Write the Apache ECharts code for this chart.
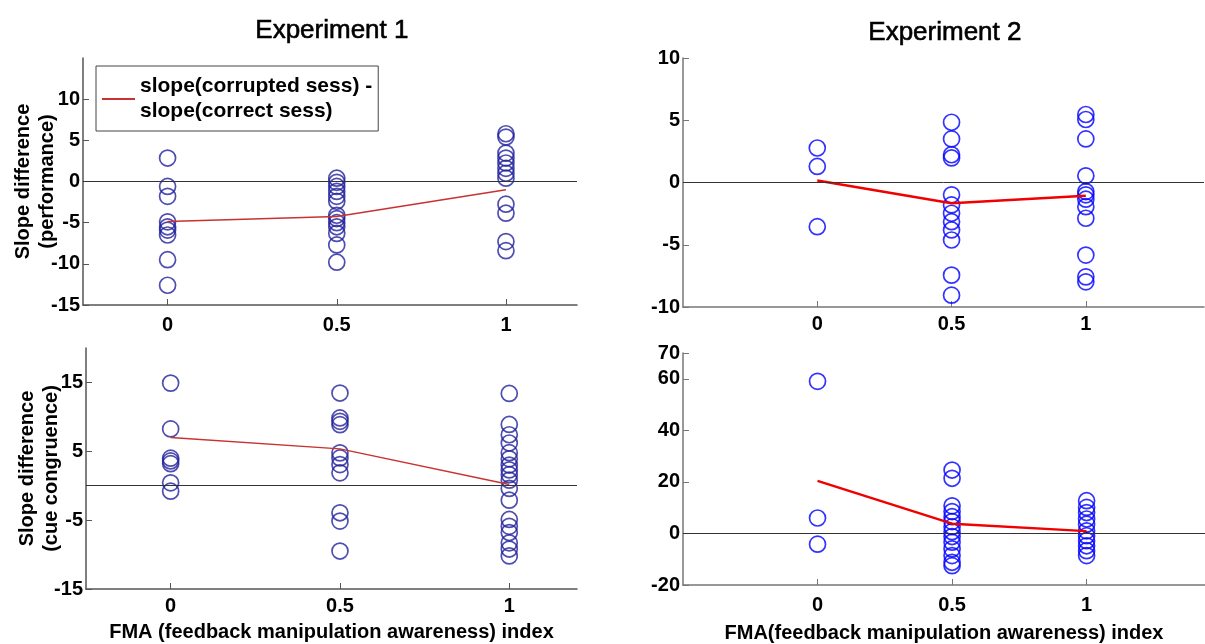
<!DOCTYPE html>
<html>
<head>
<meta charset="utf-8">
<title>Slope difference vs FMA index</title>
<script src="https://cdn.jsdelivr.net/npm/echarts@6/dist/echarts.min.js"></script>
<style>
  html, body { margin: 0; padding: 0; background: #fff; }
  #chart { width: 1205px; height: 644px; }
</style>
</head>
<body>
<div id="chart"></div>
<script>
// x positions (FMA index) and tick values
const fma = [0, 0.5, 1]
const fmaTicks = [0, 0.5, 1]

// Experiment 1 - performance
const exp1Perf0 = [2.85, -0.6, -1.8, -4.9, -5.5, -5.9, -6.5, -9.5, -12.6]
const exp1Perf05 = [0.4, -0.1, -0.6, -1.2, -1.8, -2.4, -4.1, -4.5, -5.0, -5.5, -6.3, -7.7, -9.8]
const exp1Perf1 = [5.8, 5.4, 3.45, 2.85, 2.25, 1.6, 1.0, 0.4, -2.75, -3.85, -7.3, -8.4]
const exp1PerfLine = [-4.85, -4.25, -1.0]

// Experiment 2 - performance
const exp2Perf0 = [2.77, 1.29, -3.55]
const exp2Perf05 = [4.84, 3.5, 2.23, 1.97, -0.99, -1.8, -2.47, -3.15, -3.81, -4.62, -7.44, -9.05]
const exp2Perf1 = [5.46, 5.06, 3.5, 0.54, -0.73, -0.99, -1.34, -1.94, -2.87, -5.83, -7.58, -7.98]
const exp2PerfLine = [0.16, -1.66, -1.07]

// Experiment 1 - cue congruence
const exp1Cue0 = [14.9, 8.25, 4.0, 3.6, 3.2, 0.42, -0.8]
const exp1Cue05 = [13.46, 9.84, 9.35, 8.87, 4.77, 4.04, 3.07, 1.87, -3.93, -5.14, -9.49]
const exp1Cue1 = [13.4, 8.9, 7.4, 6.2, 4.8, 3.9, 3.0, 2.3, 1.6, 0.8, -0.4, -2.1, -4.9, -5.9, -6.8, -8.3, -9.2, -10.2]
const exp1CueLine = [7.0, 5.35, 0.17]

// Experiment 2 - cue congruence
const exp2Cue0 = [59.0, 6.0, -4.15]
const exp2Cue05 = [24.6, 21.4, 10.7, 8.5, 6.5, 4.6, 2.6, 0.7, -1.2, -3.4, -6.0, -8.6, -11.2, -12.5]
const exp2Cue1 = [12.7, 10.1, 8.1, 5.6, 3.6, 1.0, -0.9, -2.8, -4.8, -6.7, -8.6]
const exp2CueLine = [20.4, 3.8, 0.9]

// y tick labels
const ticksPerf1 = [-15, -10, -5, 0, 5, 10]
const ticksPerf2 = [-10, -5, 0, 5, 10]
const ticksCue1 = [-15, -5, 5, 15]
const ticksCue2 = [-20, 0, 20, 40, 60, 70]

const legendName = 'slope(corrupted sess) -\nslope(correct sess)'
const font = 'Liberation Sans, Arial, sans-serif'

function points(groups) {
  let out = []
  groups.forEach((vals, i) => {
    vals.forEach(v => out.push([fma[i], v]))
  })
  return out
}

function lineData(vals) {
  return vals.map((v, i) => [fma[i], v])
}

function xAxisFor(idx, min, max, name, color, margin, gap) {
  return {
    type: 'value', gridIndex: idx, min: min, max: max,
    name: name, nameLocation: 'middle', nameGap: gap, nameMoveOverlap: false,
    nameTextStyle: { fontFamily: font, fontWeight: 'bold', fontSize: 20, color: '#000' },
    axisLine: { onZero: false, lineStyle: { color: color, width: 1.5 } },
    axisTick: { inside: true, length: 6, customValues: fmaTicks, lineStyle: { color: color } },
    axisLabel: { customValues: fmaTicks, margin: margin, fontFamily: font, fontWeight: 'bold', fontSize: 20, color: '#000' },
    splitLine: { show: false }
  }
}

function yAxisFor(idx, min, max, ticks, name, color, gap) {
  return {
    type: 'value', gridIndex: idx, min: min, max: max,
    name: name, nameLocation: 'middle', nameRotate: 90, nameGap: gap, nameMoveOverlap: false,
    nameTextStyle: { fontFamily: font, fontWeight: 'bold', fontSize: 20, lineHeight: 24, color: '#000' },
    axisLine: { show: true, onZero: false, lineStyle: { color: color, width: 1.5 } },
    axisTick: { show: true, inside: true, length: 6, customValues: ticks, lineStyle: { color: color } },
    axisLabel: { customValues: ticks, margin: 3, fontFamily: font, fontWeight: 'bold', fontSize: 20, color: '#000' },
    splitLine: { show: false }
  }
}

function scatterFor(idx, groups, color) {
  return {
    type: 'scatter', xAxisIndex: idx, yAxisIndex: idx,
    symbol: 'circle', symbolSize: 16,
    itemStyle: { color: 'rgba(0,0,0,0)', borderColor: color, borderWidth: 1.7 },
    data: points(groups),
    markLine: {
      silent: true, symbol: 'none', label: { show: false },
      lineStyle: { color: '#333', width: 1, type: 'solid' },
      emphasis: { disabled: true },
      data: [{ yAxis: 0 }]
    },
    z: 2
  }
}

function meanLine(idx, name, vals, color, width) {
  return {
    type: 'line', name: name, xAxisIndex: idx, yAxisIndex: idx,
    data: lineData(vals), symbol: 'none',
    lineStyle: { color: color, width: width },
    itemStyle: { color: color },
    z: 3
  }
}

const chart = echarts.init(document.getElementById('chart'))

const option = {
  animation: false,
  backgroundColor: '#fff',
  graphic: [
    { type: 'text', left: 255, top: 18, style: { text: 'Experiment 1', font: '26px ' + font, fill: '#000', stroke: '#000', lineWidth: 0.6 } },
    { type: 'text', left: 868, top: 20, style: { text: 'Experiment 2', font: '26px ' + font, fill: '#000', stroke: '#000', lineWidth: 0.6 } }
  ],
  legend: {
    data: [legendName], left: 96, top: 66,
    icon: 'rect', itemWidth: 33, itemHeight: 2,
    borderColor: '#444', borderWidth: 1, backgroundColor: '#fff',
    padding: [8, 6, 7, 6],
    textStyle: { fontFamily: font, fontWeight: 'bold', fontSize: 21, lineHeight: 25, color: '#000' }
  },
  grid: [
    { left: 83, top: 58, width: 494, height: 247 },
    { left: 683, top: 58, width: 521, height: 249 },
    { left: 86, top: 348, width: 491, height: 241 },
    { left: 683, top: 353, width: 522, height: 232 }
  ],
  xAxis: [
    xAxisFor(0, -0.25, 1.21, '', '#555', 10, 30),
    xAxisFor(1, -0.5, 1.44, '', '#777', 7, 30),
    xAxisFor(2, -0.25, 1.2, 'FMA (feedback manipulation awareness) index', '#555', 7, 33),
    xAxisFor(3, -0.5, 1.44, 'FMA(feedback manipulation awareness) index', '#777', 10, 38)
  ],
  yAxis: [
    yAxisFor(0, -15, 15, ticksPerf1, 'Slope difference\n(performance)', '#555', 24),
    yAxisFor(1, -10, 10, ticksPerf2, '', '#777', 24),
    yAxisFor(2, -15, 20, ticksCue1, 'Slope difference\n(cue congruence)', '#555', 23),
    yAxisFor(3, -20, 70, ticksCue2, '', '#777', 24)
  ],
  series: [
    scatterFor(0, [exp1Perf0, exp1Perf05, exp1Perf1], '#22229c'),
    meanLine(0, legendName, exp1PerfLine, '#c83232', 1.5),
    scatterFor(1, [exp2Perf0, exp2Perf05, exp2Perf1], '#0000ff'),
    meanLine(1, 'exp2 performance', exp2PerfLine, '#f00000', 2.5),
    scatterFor(2, [exp1Cue0, exp1Cue05, exp1Cue1], '#22229c'),
    meanLine(2, 'exp1 cue', exp1CueLine, '#c83232', 1.5),
    scatterFor(3, [exp2Cue0, exp2Cue05, exp2Cue1], '#0000ff'),
    meanLine(3, 'exp2 cue', exp2CueLine, '#f00000', 2.5)
  ]
}

chart.setOption(option)
</script>
</body>
</html>
